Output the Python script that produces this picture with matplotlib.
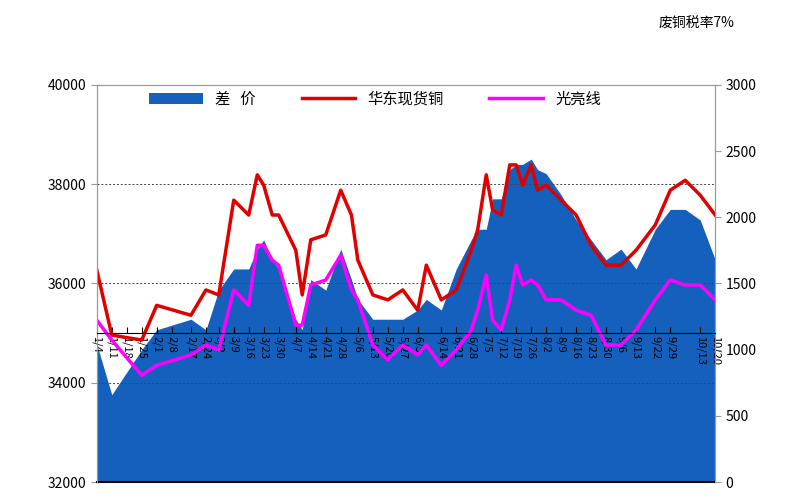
import matplotlib.pyplot as plt
import pandas as pd

plt.rcParams['font.family'] = ['Noto Sans CJK SC', 'DejaVu Sans']

dates = ['1/4', '1/11', '1/25', '2/1', '2/17', '2/24', '3/2', '3/9', '3/16', '3/20',
         '3/23', '3/27', '3/30', '4/7', '4/10', '4/14', '4/21', '4/28', '5/3', '5/6',
         '5/13', '5/20', '5/27', '6/3', '6/7', '6/14', '6/21', '6/28', '7/1', '7/5',
         '7/8', '7/12', '7/16', '7/19', '7/22', '7/26', '7/29', '8/2', '8/9', '8/16',
         '8/23', '8/30', '9/6', '9/13', '9/22', '9/29', '10/6', '10/13', '10/20']

copper = [36270, 34960, 34860, 35560, 35360, 35870, 35770, 37680, 37380, 38190,
          37980, 37380, 37380, 36670, 35770, 36880, 36980, 37880, 37380, 36470,
          35770, 35670, 35870, 35460, 36370, 35670, 35870, 36670, 37080, 38190,
          37480, 37380, 38390, 38390, 37980, 38390, 37880, 37980, 37680, 37380,
          36770, 36370, 36370, 36670, 37180, 37880, 38080, 37780, 37380]

bright = [35260, 34860, 34150, 34350, 34560, 34760, 34660, 35870, 35560, 36770,
          36770, 36470, 36370, 35160, 35160, 35970, 36070, 36570, 35870, 35670,
          34760, 34460, 34760, 34560, 34760, 34350, 34660, 35060, 35460, 36170,
          35260, 35060, 35670, 36370, 35970, 36070, 35970, 35670, 35670, 35460,
          35360, 34760, 34760, 35060, 35670, 36070, 35970, 35970, 35670]

spread = [1040, 660, 1000, 1150, 1230, 1150, 1450, 1610, 1610, 1760,
          1830, 1680, 1610, 1230, 1150, 1530, 1450, 1760, 1530, 1380,
          1230, 1230, 1230, 1300, 1380, 1300, 1610, 1830, 1910, 1910,
          2140, 2140, 2360, 2400, 2400, 2440, 2360, 2330, 2170, 1980,
          1830, 1680, 1760, 1610, 1910, 2060, 2060, 1980, 1680]

tick_labels = ['1/4', '1/11', '1/18', '1/25', '2/1', '2/8', '2/17', '2/24', '3/2', '3/9',
               '3/16', '3/23', '3/30', '4/7', '4/14', '4/21', '4/28', '5/6', '5/13', '5/20',
               '5/27', '6/3', '6/14', '6/21', '6/28', '7/5', '7/12', '7/19', '7/26', '8/2',
               '8/9', '8/16', '8/23', '8/30', '9/6', '9/13', '9/22', '9/29', '10/13', '10/20']


def doy(s):
    return pd.Timestamp('2010/' + s).dayofyear


x = [doy(d) for d in dates]
xt = [doy(d) for d in tick_labels]

fig = plt.figure(figsize=(8, 5), dpi=100)
ax = fig.add_axes([0.121, 0.036, 0.773, 0.794])
ax2 = ax.twinx()
# area axis behind, line axis in front
ax2.set_zorder(ax.get_zorder() - 1)
ax.patch.set_visible(False)

area = ax2.fill_between(x, 0, spread, color='#1560bd', linewidth=0)
ax2.set_ylim(0, 3000)
ax2.set_yticks(range(0, 3001, 500))

l1, = ax.plot(x, copper, color='#e00000', linewidth=2.5)
l2, = ax.plot(x, bright, color='#ff00ff', linewidth=2.5)
ax.set_ylim(32000, 40000)
ax.set_yticks(range(32000, 40001, 2000))
ax.set_xlim(x[0], x[-1])
for yv in (34000, 36000, 38000):
    ax.axhline(yv, color='#444444', linestyle=(0, (2, 2)), linewidth=0.7, zorder=0)

ax.spines['bottom'].set_position(('data', 35000))
ax.set_xticks(xt)
ax.set_xticklabels(tick_labels, rotation=270, fontsize=8)
ax.tick_params(axis='x', direction='in', length=4, pad=2)
ax.axhline(32000, color='black', linewidth=1.5, clip_on=False)
for a in (ax, ax2):
    a.tick_params(axis='y', labelsize=10, color='#999999', length=4)
for a in (ax, ax2):
    for s in ('top', 'left', 'right'):
        a.spines[s].set_color('#999999')
ax2.spines['bottom'].set_visible(False)

ax.legend([area, l1, l2], ['差   价', '华东现货铜', '光亮线'], loc='upper center',
          ncol=3, frameon=False, fontsize=11, bbox_to_anchor=(0.45, 1.02),
          handlelength=3.5, columnspacing=3)

fig.text(0.87, 0.945, '废铜税率7%', fontsize=10, ha='center')

fig.savefig('out.png', dpi=100)
